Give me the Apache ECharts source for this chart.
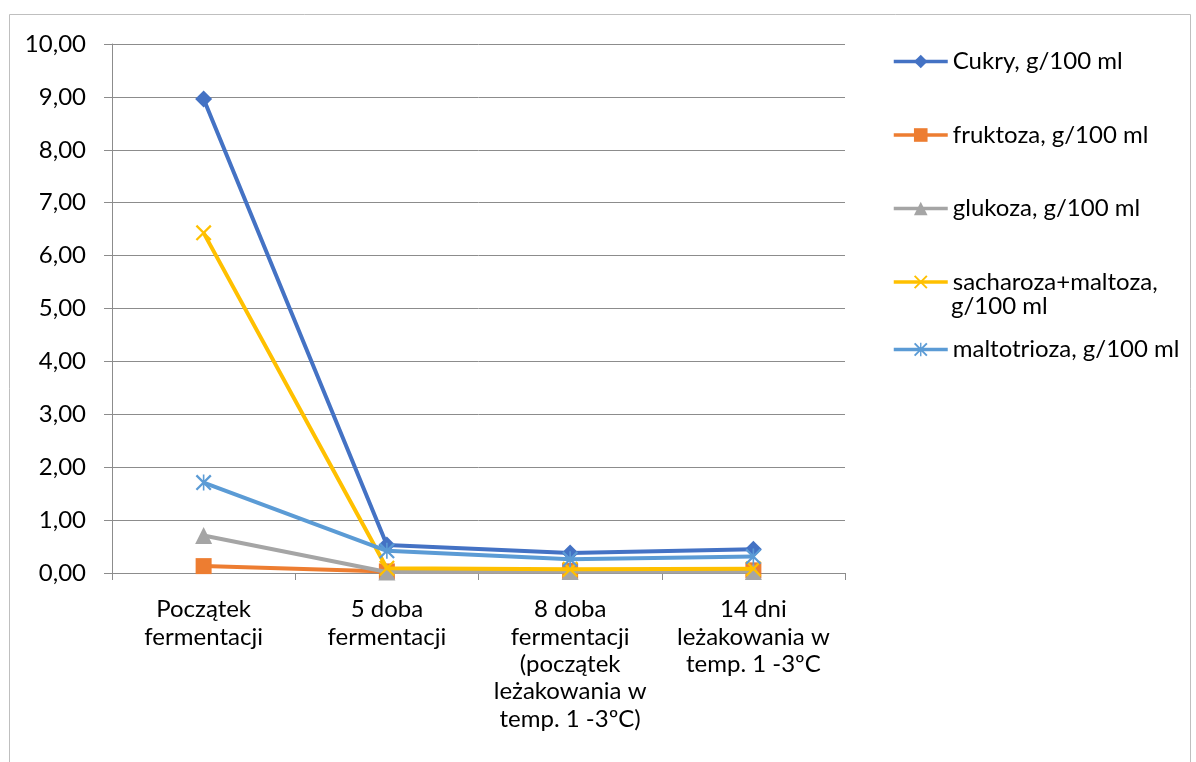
<!DOCTYPE html>
<html>
<head>
<meta charset="utf-8">
<script src="https://cdn.jsdelivr.net/npm/echarts@6/dist/echarts.min.js"></script>
<style>
  html, body { margin: 0; padding: 0; background: #fff; }
  #chart { width: 1196px; height: 762px; }
</style>
</head>
<body>
<div id="chart"></div>
<script>
// kategorie osi X
const categories = [
  "Początek\nfermentacji",
  "5 doba\nfermentacji",
  "8 doba\nfermentacji\n(początek\nleżakowania w\ntemp. 1 -3ºC)",
  "14 dni\nleżakowania w\ntemp. 1 -3ºC"
];
const seriesNames = [
  "Cukry, g/100 ml",
  "fruktoza, g/100 ml",
  "glukoza, g/100 ml",
  "sacharoza+maltoza,",
  "maltotrioza, g/100 ml"
];
const cukry = [8.96, 0.53, 0.38, 0.45];
const fruktoza = [0.13, 0.03, 0.04, 0.05];
const glukoza = [0.71, 0.02, 0.03, 0.03];
const sacharoza = [6.43, 0.09, 0.07, 0.08];
const maltotrioza = [1.71, 0.42, 0.26, 0.31];
const yTicks = [0, 1, 2, 3, 4, 5, 6, 7, 8, 9, 10];

const FONT = "Lato";
const FS = 24;
const colors = ["#4472C4", "#ED7D31", "#A5A5A5", "#FFC000", "#5B9BD5"];

// symbole x i gwiazdka jako cienkie wielokąty
const xPath = "path://M0,1L1,0L10,9L9,10ZM9,0L10,1L1,10L0,9Z";
const starPath = "path://M0,1L1,0L10,9L9,10ZM9,0L10,1L1,10L0,9ZM4.5,0L5.5,0L5.5,10L4.5,10Z";

const chart = echarts.init(document.getElementById("chart"));

const mkSeries = (i, data, symbol, size) => ({
  name: seriesNames[i],
  type: "line",
  data: data,
  symbol: symbol,
  symbolSize: size,
  showAllSymbol: true,
  color: colors[i],
  lineStyle: { width: 4, color: colors[i] },
  itemStyle: { color: colors[i] },
  z: 2 + i
});

const legendText = { fontFamily: FONT, fontSize: FS, color: "#000", lineHeight: 27 };

const option = {
  animation: false,
  textStyle: { fontFamily: FONT },
  graphic: [
    {
      type: "rect",
      shape: { x: 9.5, y: 14.5, width: 1181, height: 780 },
      style: { fill: "none", stroke: "#BFBFBF", lineWidth: 1 },
      silent: true
    },
    {
      type: "text",
      left: 951,
      top: 294,
      style: { text: "g/100 ml", fontFamily: FONT, fontSize: FS, fill: "#000" }
    }
  ],
  grid: { left: 112, top: 44, right: 351, bottom: 189 },
  legend: [
    {
      orient: "vertical",
      left: 887,
      top: 43,
      itemWidth: 54,
      itemHeight: 17,
      itemGap: 46.5,
      padding: 5,
      data: seriesNames.slice(0, 4),
      lineStyle: { width: 3.5 },
      textStyle: legendText
    },
    {
      orient: "vertical",
      left: 887,
      top: 331,
      itemWidth: 54,
      itemHeight: 17,
      padding: 5,
      data: [seriesNames[4]],
      lineStyle: { width: 3.5 },
      textStyle: legendText
    }
  ],
  xAxis: {
    type: "category",
    data: categories,
    boundaryGap: true,
    axisLine: { lineStyle: { color: "#8C8C8C", width: 1 } },
    axisTick: { show: true, length: 7, lineStyle: { color: "#8C8C8C" } },
    axisLabel: {
      interval: 0,
      margin: 23,
      color: "#000",
      fontFamily: FONT,
      fontSize: FS,
      lineHeight: 27.3
    }
  },
  yAxis: {
    type: "value",
    min: yTicks[0],
    max: yTicks[yTicks.length - 1],
    interval: 1,
    axisLine: { show: true, lineStyle: { color: "#8C8C8C", width: 1 } },
    axisTick: { show: true, length: 8, lineStyle: { color: "#8C8C8C" } },
    splitLine: { lineStyle: { color: "#8C8C8C", width: 1 } },
    axisLabel: {
      margin: 26,
      color: "#000",
      fontFamily: FONT,
      fontSize: FS,
      formatter: (v) => v.toFixed(2).replace(".", ",")
    }
  },
  series: [
    mkSeries(0, cukry, "diamond", [17, 17]),
    mkSeries(1, fruktoza, "rect", 16),
    mkSeries(2, glukoza, "triangle", 17),
    mkSeries(3, sacharoza, xPath, 16),
    mkSeries(4, maltotrioza, starPath, 16)
  ]
};

chart.setOption(option);
</script>
</body>
</html>
